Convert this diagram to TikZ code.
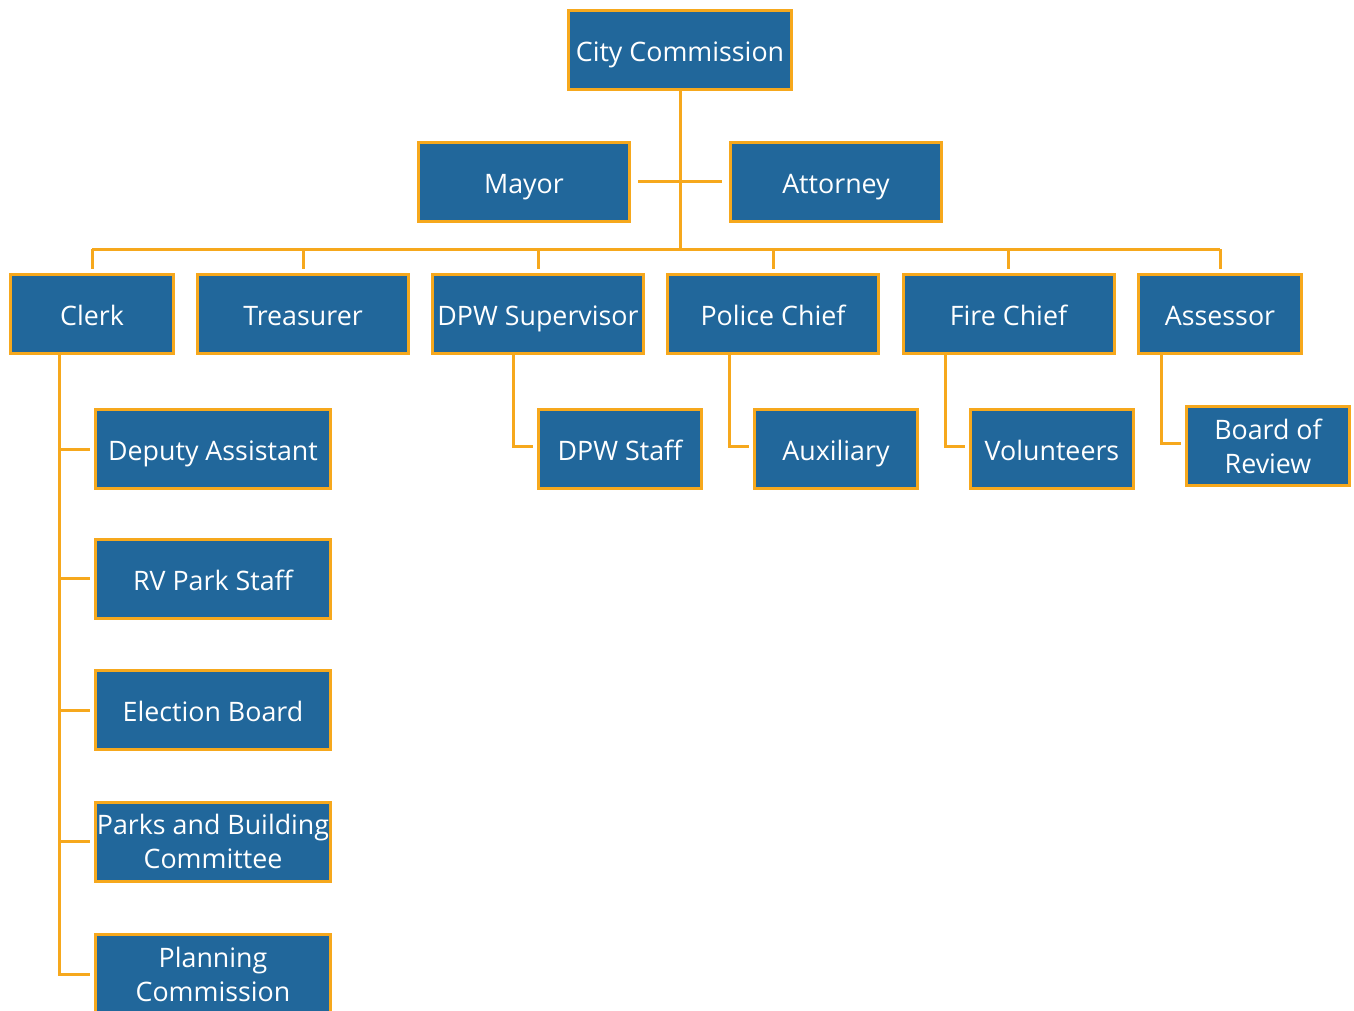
\documentclass[tikz,border=0pt]{standalone}
\usepackage{fontspec}
\setmainfont{Open Sans}
\definecolor{boxblue}{HTML}{21679B}
\definecolor{boxorange}{HTML}{F6A81D}
\begin{document}
\begin{tikzpicture}[x=1pt,y=-1pt,
  box/.style={draw=boxorange, line width=3pt, fill=boxblue, text=white, inner sep=0pt,
    minimum height=79pt, align=center,
    font=\fontsize{26.8}{34}\selectfont},
  one/.style={text height=23pt, text depth=0pt},
  w226/.style={box, minimum width=223pt},
  w214/.style={box, minimum width=211pt},
  w166/.style={box, minimum width=163pt},
  w238/.style={box, minimum width=235pt},
  conn/.style={draw=boxorange, line width=3pt},
  gap/.style={shorten >=4pt}]
\useasboundingbox (0,0) rectangle (1354,1010);
\clip (0,0) rectangle (1354,1010);
% top
\node[w226, one] (cc) at (680,50) {City Commission};
\node[w214, one] (mayor) at (524,181.5) {Mayor};
\node[w214, one] (att) at (836,181.5) {Attorney};
% row 2
\node[w166, one] (clerk) at (92,313.5) {Clerk};
\node[w214, one] (treas) at (303,313.5) {Treasurer};
\node[w214, one] (dpw) at (538,313.5) {DPW Supervisor};
\node[w214, one] (police) at (773,313.5) {Police Chief};
\node[w214, one] (fire) at (1008.5,313.5) {Fire Chief};
\node[w166, one] (assess) at (1220,313.5) {Assessor};
% row 3
\node[w166, one] (dpwstaff) at (620,449) {DPW Staff};
\node[w166, one] (aux) at (836,449) {Auxiliary};
\node[w166, one] (vol) at (1052,449) {Volunteers};
\node[w166] (board) at (1268,446) {Board of\\Review};
% clerk children
\node[w238, one] (dep) at (213,449) {Deputy Assistant};
\node[w238, one] (rv) at (213,578.5) {RV Park Staff};
\node[w238, one] (elec) at (213,710) {Election Board};
\node[w238] (parks) at (213,841.5) {Parks and Building\\Committee};
\node[w238] (plan) at (213,974) {Planning\\Commission};
% connectors
\coordinate (bus) at (680,249);
\draw[conn] (cc.south) -- (bus);
\draw[conn, shorten <=7pt, shorten >=7pt] (mayor.east) -- (att.west);
\draw[conn] (clerk.north |- bus) -- (assess.north |- bus);
\foreach \n in {clerk,treas,dpw,police,fire,assess}
  \draw[conn, gap] (\n.north |- bus) -- (\n.north);
\foreach \p/\c in {dpw/dpwstaff,police/aux,fire/vol,assess/board}
  \draw[conn, gap] ([xshift=-24pt]\c.west |- \p.south) |- ([yshift=3pt]\c.west);
\foreach \c in {dep,rv,elec,parks,plan}
  \draw[conn, gap] ([xshift=-35pt]\c.west |- clerk.south) |- (\c.west);
\end{tikzpicture}
\end{document}
